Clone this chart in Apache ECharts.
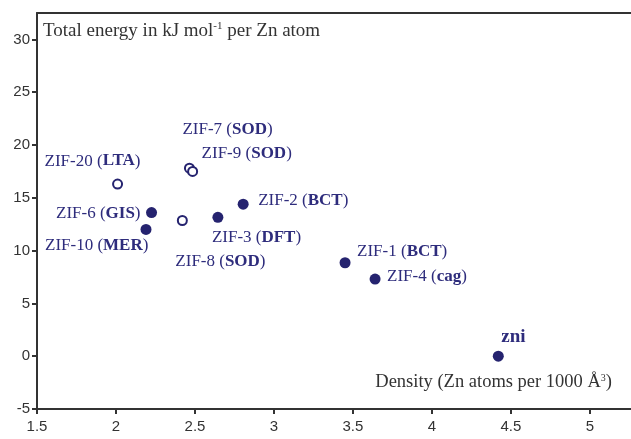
<!DOCTYPE html>
<html><head><meta charset="utf-8">
<script src="https://cdn.jsdelivr.net/npm/echarts@6/dist/echarts.min.js"></script>
<style>html,body{margin:0;padding:0;background:#fff}#c{width:631px;height:439px}</style>
</head><body><div id="c"></div>
<script>
// Data
const names      = ['ZIF-20','ZIF-7','ZIF-9','ZIF-6','ZIF-10','ZIF-8','ZIF-3','ZIF-2','ZIF-1','ZIF-4','zni'];
const topologies = ['LTA','SOD','SOD','GIS','MER','SOD','DFT','BCT','BCT','cag',''];
const density    = [2.01, 2.465, 2.485, 2.225, 2.19, 2.42, 2.645, 2.805, 3.45, 3.64, 4.42];
const energy     = [16.3, 17.8, 17.5, 13.6, 12.0, 12.85, 13.15, 14.4, 8.85, 7.3, 0.0];
const openMarker = [true, true, true, false, false, true, false, false, false, false, false];
const xTicks = [1.5, 2, 2.5, 3, 3.5, 4, 4.5, 5];
const yTicks = [-5, 0, 5, 10, 15, 20, 25, 30];

// label placement (style config, by name): [dx, dy, align]
const labelPlace = {
  'ZIF-20': [-73, -23, 'left'],
  'ZIF-7':  [-7, -39, 'left'],
  'ZIF-9':  [9, -18, 'left'],
  'ZIF-6':  [-11, 1, 'right'],
  'ZIF-10': [-101, 16, 'left'],
  'ZIF-8':  [-7, 41, 'left'],
  'ZIF-3':  [-6, 20, 'left'],
  'ZIF-2':  [15, -4, 'left'],
  'ZIF-1':  [12, -11, 'left'],
  'ZIF-4':  [12, -3, 'left'],
  'zni':    [3, -19, 'left']
};

const NAVY = '#25236f';
const LBL = '#2e2c7c';
const SERIF = '"Liberation Serif","DejaVu Serif",serif';
const SANS = '"Liberation Sans",Arial,sans-serif';

const pts = names.map((n, i) => {
  const p = labelPlace[n];
  const fmt = topologies[i] ? '{n|' + n + ' (}{b|' + topologies[i] + '}{n|)}' : '{z|' + n + '}';
  return {
    name: n,
    value: [density[i], energy[i]],
    symbolSize: openMarker[i] ? 9 : 11,
    itemStyle: openMarker[i]
      ? { color: '#fff', borderColor: NAVY, borderWidth: 2, opacity: 1 }
      : { color: NAVY, borderWidth: 0, opacity: 1 },
    label: {
      show: true, position: 'inside', align: p[2], verticalAlign: 'middle',
      offset: [p[0], p[1]], formatter: fmt, opacity: 1,
      rich: {
        n: { fontFamily: SERIF, fontSize: 17, color: LBL },
        b: { fontFamily: SERIF, fontSize: 17, color: LBL, fontWeight: 'bold' },
        z: { fontFamily: SERIF, fontSize: 19, color: LBL, fontWeight: 'bold' }
      }
    }
  };
});

const AXLINE = { show: true, onZero: false, lineStyle: { color: '#333', width: 2 } };
const chart = echarts.init(document.getElementById('c'), null, { renderer: 'canvas' });
chart.setOption({
  animation: false,
  grid: { left: 37, right: -4, top: 13, bottom: 30 },
  xAxis: [{
    type: 'value', min: xTicks[0], max: 5.26, interval: 0.5, position: 'bottom',
    axisLine: AXLINE,
    axisTick: { show: true, length: 5, lineStyle: { color: '#333', width: 2 } },
    splitLine: { show: false },
    axisLabel: { color: '#333', fontSize: 15, fontFamily: SANS, margin: 10, showMaxLabel: false,
      formatter: v => xTicks.includes(+v.toFixed(2)) ? String(v) : '' }
  }, {
    type: 'value', min: xTicks[0], max: 5.26, position: 'top',
    axisLine: AXLINE, axisTick: { show: false }, axisLabel: { show: false }, splitLine: { show: false }
  }],
  yAxis: {
    type: 'value', min: yTicks[0], max: 32.5, interval: 5,
    axisLine: AXLINE,
    axisTick: { show: true, length: 5, lineStyle: { color: '#333', width: 2 } },
    splitLine: { show: false },
    axisLabel: { color: '#333', fontSize: 15, fontFamily: SANS, margin: 7, showMaxLabel: false,
      formatter: v => yTicks.includes(v) ? String(v) : '' }
  },
  graphic: [
    { type: 'text', left: 43, top: 21, z: 10,
      style: { text: '{a|Total energy in kJ mol}{s|-1}{a| per Zn atom}', fill: '#333',
        rich: { a: { fontFamily: SERIF, fontSize: 19, fill: '#333', verticalAlign: 'bottom' },
                s: { fontFamily: SERIF, fontSize: 11, fill: '#333', verticalAlign: 'top', padding: [0, 0, 9, 0] } } } },
    { type: 'text', right: 19, top: 373, z: 10,
      style: { text: '{a|Density (Zn atoms per 1000 Å}{s|3}{a|)}', fill: '#333',
        rich: { a: { fontFamily: SERIF, fontSize: 18.5, fill: '#333', verticalAlign: 'bottom' },
                s: { fontFamily: SERIF, fontSize: 10, fill: '#333', verticalAlign: 'top', padding: [0, 0, 9, 0] } } } }
  ],
  series: [{ type: 'scatter', xAxisIndex: 0, data: pts, symbol: 'circle', itemStyle: { opacity: 1 }, emphasis: { disabled: true } }]
});
</script></body></html>
